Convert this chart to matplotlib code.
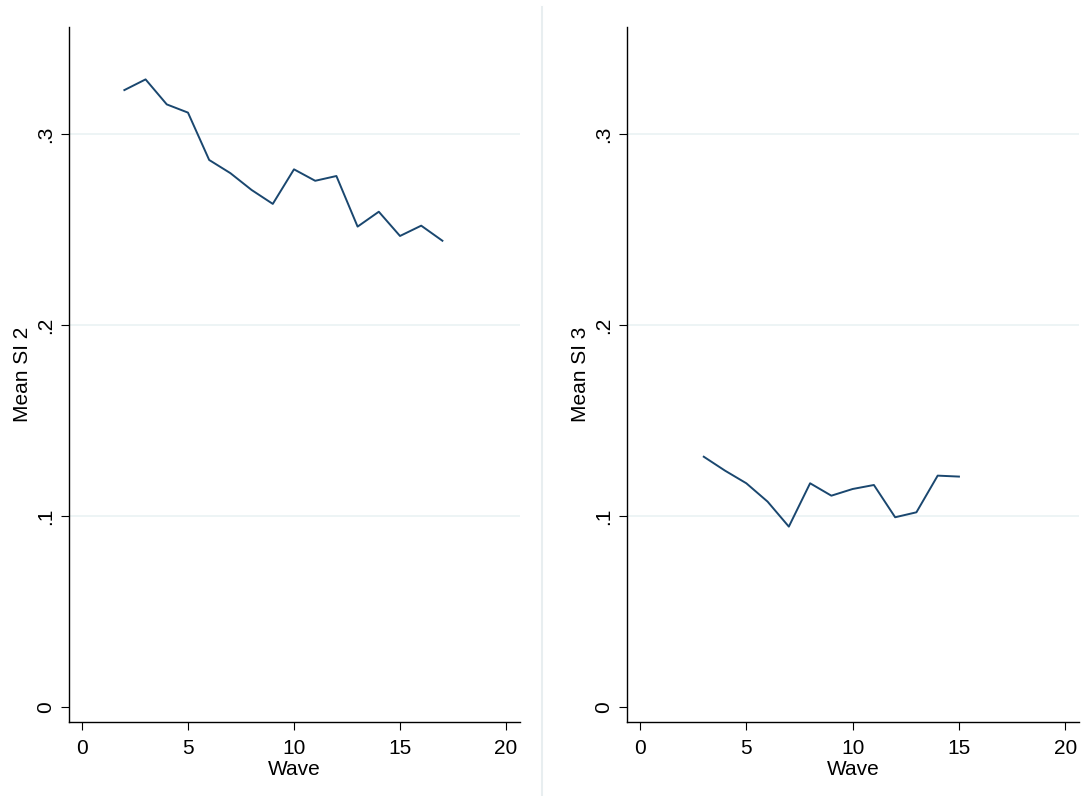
import matplotlib
matplotlib.use("Agg")
import matplotlib.pyplot as plt
from matplotlib.lines import Line2D

plt.rcParams['font.family'] = ['Liberation Sans', 'DejaVu Sans']

# mean SI by wave
wave2 = [2, 3, 4, 5, 6, 7, 8, 9, 10, 11, 12, 13, 14, 15, 16, 17]
si2 = [0.3230, 0.3286, 0.3155, 0.3112, 0.2864, 0.2795, 0.2707, 0.2634,
       0.2815, 0.2755, 0.2780, 0.2515, 0.2593, 0.2466, 0.2520, 0.2441]

wave3 = [3, 4, 5, 6, 7, 8, 9, 10, 11, 12, 13, 14, 15]
si3 = [0.1310, 0.1237, 0.1171, 0.1075, 0.0944, 0.1171, 0.1106,
       0.1141, 0.1162, 0.0993, 0.1019, 0.1211, 0.1206]

yticks = [0, 0.1, 0.2, 0.3]
ylabels = ['0', '.1', '.2', '.3']
xticks = [0, 5, 10, 15, 20]

line_col = '#1a476f'
grid_col = '#eaf2f3'

fig = plt.figure(figsize=(10.82, 7.96), dpi=100)

def panel(rect, x, y, ylab):
    ax = fig.add_axes(rect)
    ax.plot(x, y, color=line_col, lw=1.4)
    ax.set_xlim(-0.61, 20.66)
    ax.set_ylim(-0.0079, 0.356)
    ax.set_yticks(yticks)
    ax.set_yticklabels(ylabels, rotation=90, va='center')
    ax.set_xticks(xticks)
    ax.tick_params(labelsize=15, length=6, width=0.8, direction='out')
    ax.tick_params(axis='x', pad=6)
    ax.tick_params(axis='y', pad=4)
    for t in yticks[1:]:
        ax.axhline(t, color=grid_col, lw=1.2, zorder=0)
    for s in ['top', 'right']:
        ax.spines[s].set_visible(False)
    ax.spines['left'].set_linewidth(1.0)
    ax.spines['bottom'].set_linewidth(1.0)
    ax.set_xlabel('Wave', fontsize=15, labelpad=2)
    ax.set_ylabel(ylab, fontsize=15, labelpad=3)
    return ax

panel([0.0638, 0.093, 0.4168, 0.873], wave2, si2, 'Mean SI 2')
panel([0.5795, 0.093, 0.4180, 0.873], wave3, si3, 'Mean SI 3')

# divider between the combined graphs
fig.add_artist(Line2D([541.5 / 1082, 541.5 / 1082], [0, 789 / 796],
                      transform=fig.transFigure, color='#e8eef0', lw=1.5))

fig.savefig('out.png', dpi=100)
